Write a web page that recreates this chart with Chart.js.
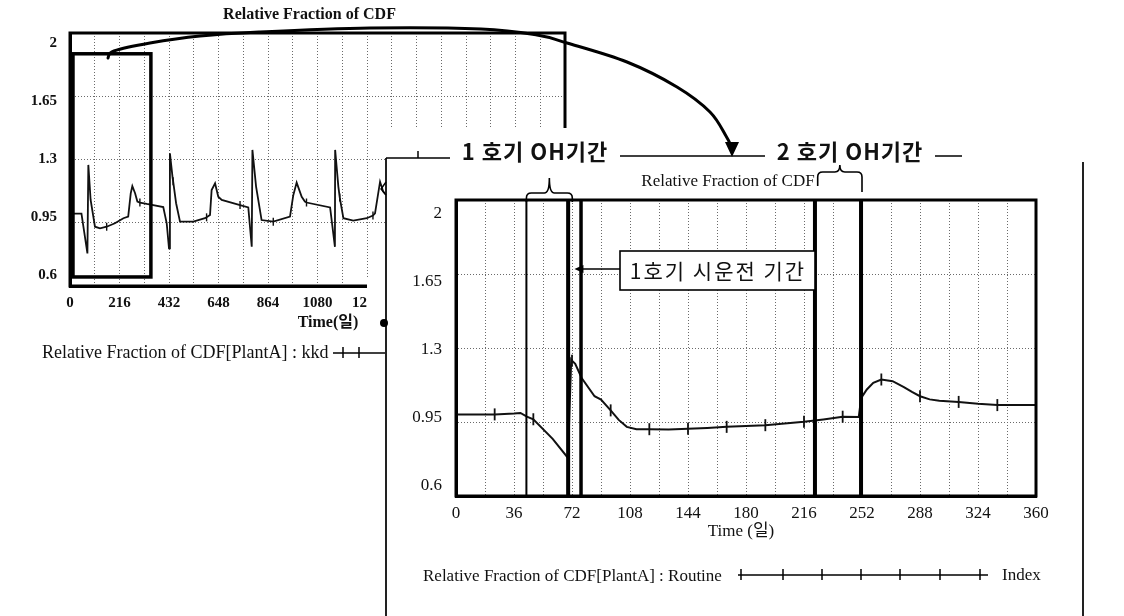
<!DOCTYPE html>
<html><head><meta charset="utf-8">
<script src="https://cdn.jsdelivr.net/npm/chart.js@4.4.1/dist/chart.umd.min.js"></script>
<style>
html,body{margin:0;padding:0;background:#fff;overflow:hidden}
#wrap{position:relative;width:1124px;height:616px;background:#fff}
canvas{position:absolute;left:0;top:0}
</style></head><body>
<div id="wrap"><canvas id="c1" width="1124" height="616"></canvas><canvas id="c2" width="1124" height="616"></canvas></div>
<script>
// ---------- Background chart (long run, kkd) ----------
const bgDays   = [0, 4, 50, 76, 80, 90, 109, 131, 160, 196, 233, 254, 265, 272, 284, 294, 305, 335, 407, 422, 432, 436, 448, 450, 463, 480, 538, 589, 596, 611, 618, 633, 647, 662, 742, 778, 793, 796, 812, 836, 887, 960, 974, 989, 1011, 1025, 1032, 1135, 1156, 1157, 1171, 1177, 1193, 1236, 1295, 1322, 1331, 1353, 1367, 1382, 1420];
const bgValues = [0.96, 1.0, 1.0, 0.78, 1.27, 1.076, 0.928, 0.919, 0.928, 0.947, 0.975, 0.984, 1.113, 1.153, 1.113, 1.067, 1.062, 1.054, 1.037, 0.947, 0.809, 1.334, 1.196, 1.18, 1.058, 0.956, 0.956, 0.975, 0.98, 0.993, 1.131, 1.168, 1.094, 1.076, 1.048, 1.035, 0.817, 1.353, 1.15, 0.965, 0.956, 0.984, 1.10, 1.172, 1.094, 1.067, 1.062, 1.035, 0.817, 1.353, 1.15, 1.09, 0.975, 0.962, 0.975, 0.99, 1.002, 1.177, 1.122, 1.10, 1.07];
const bgMarkerDays = [160, 305, 450, 596, 742, 887, 1032, 1177, 1322];
const bgXGrid = [0,108,216,324,432,540,648,756,864,972,1080,1188,1296,1404,1512,1620,1728,1836,1944,2052,2160];
const bgXTickLabels = [0,216,432,648,864,1080,1296,1512,1728,1944,2160];
const yTickLabels = [0.6, 0.95, 1.3, 1.65, 2];
const bgZoomBox = {x0: 13, x1: 353, y0: 0.65, y1: 1.885};

// ---------- Inset chart (0-360 days, Routine) ----------
const inDays   = [0, 12, 24, 36, 40, 44, 48, 60, 69.5, 71.5, 72, 74, 78, 86, 90, 96, 101, 106, 112, 120, 132, 144, 156, 168, 180, 192, 204, 216, 228, 240, 250, 251.5, 255, 259, 264, 271, 278, 283, 288, 294, 300, 312, 324, 336, 348, 360];
const inValues = [0.985, 0.985, 0.986, 0.99, 0.993, 0.975, 0.963, 0.87, 0.78, 1.245, 1.24, 1.225, 1.158, 1.072, 1.056, 1.005, 0.96, 0.927, 0.916, 0.916, 0.915, 0.918, 0.922, 0.927, 0.931, 0.935, 0.943, 0.951, 0.962, 0.975, 0.974, 1.064, 1.104, 1.135, 1.151, 1.143, 1.115, 1.092, 1.072, 1.057, 1.05, 1.045, 1.036, 1.03, 1.03, 1.03];
const inMarkerDays = [24, 48, 72, 96, 120, 144, 168, 192, 216, 240, 264, 288, 312, 336];
const inXGrid = [0,18,36,54,72,90,108,126,144,162,180,198,216,234,252,270,288,306,324,342,360];
const inXTickLabels = [0,36,72,108,144,180,216,252,288,324,360];
const eventDays = [43.7, 69.6, 77.6, 222.8, 251.4];
const eventLineWidths = [2, 4, 3.5, 4, 4];
const unit1OHBrace = [43.7, 72.2];
const unit2OHBrace = [224.5, 252];
const commissioningDay = 73.5;

const serif = "'Liberation Serif', 'Times New Roman', 'Noto Sans CJK KR', serif";
const kr = "'Noto Sans CJK KR', sans-serif";
const INK = '#111';

function drawYLabels(chart, x, font, k, dy) {
  const {ctx, chartArea: a, scales: {y}} = chart;
  const mid = (a.top + a.bottom) / 2;
  ctx.save(); ctx.font = font; ctx.fillStyle = INK; ctx.textAlign = 'right'; ctx.textBaseline = 'middle';
  yTickLabels.forEach(v => { const py = y.getPixelForValue(v); ctx.fillText(String(v), x, mid + (py - mid) * k + dy); });
  ctx.restore();
}
function frame(chart, w) {
  const {ctx, chartArea: a} = chart;
  ctx.save(); ctx.strokeStyle = '#000'; ctx.lineWidth = w;
  ctx.strokeRect(a.left, a.top, a.right - a.left, a.bottom - a.top); ctx.restore();
}
function text(ctx, s, x, y, font, align, spacing) {
  ctx.save(); ctx.font = font; ctx.fillStyle = INK; ctx.textAlign = align || 'center'; ctx.textBaseline = 'middle';
  if (spacing) ctx.letterSpacing = spacing;
  ctx.fillText(s, x, y); ctx.restore();
}
function line(ctx, x1, y1, x2, y2, w) {
  ctx.save(); ctx.strokeStyle = '#000'; ctx.lineWidth = w || 1.5; ctx.beginPath(); ctx.moveTo(x1, y1); ctx.lineTo(x2, y2); ctx.stroke(); ctx.restore();
}
function legendTicks(ctx, xs, y) {
  ctx.save(); ctx.strokeStyle = '#000'; ctx.lineWidth = 1.5;
  xs.forEach(x => { ctx.beginPath(); ctx.moveTo(x, y - 6); ctx.lineTo(x, y + 5); ctx.stroke(); });
  ctx.restore();
}
function brace(ctx, x0, x1, yTop, yPeak, yBaseL, yBaseR) {
  const xm = (x0 + x1) / 2, r = 5;
  ctx.save(); ctx.strokeStyle = '#000'; ctx.lineWidth = 1.6; ctx.beginPath();
  ctx.moveTo(x0, yBaseL); ctx.lineTo(x0, yTop + r); ctx.quadraticCurveTo(x0, yTop, x0 + r, yTop);
  ctx.lineTo(xm - r, yTop); ctx.quadraticCurveTo(xm, yTop, xm, yPeak);
  ctx.quadraticCurveTo(xm, yTop, xm + r, yTop); ctx.lineTo(x1 - r, yTop);
  ctx.quadraticCurveTo(x1, yTop, x1, yTop + r); ctx.lineTo(x1, yBaseR); ctx.stroke(); ctx.restore();
}
function smoothPath(ctx, pts) {
  ctx.moveTo(pts[0][0], pts[0][1]);
  for (let i = 0; i < pts.length - 1; i++) {
    const p0 = pts[i - 1] || pts[i], p1 = pts[i], p2 = pts[i + 1], p3 = pts[i + 2] || p2;
    ctx.bezierCurveTo(p1[0] + (p2[0] - p0[0]) / 6, p1[1] + (p2[1] - p0[1]) / 6,
                      p2[0] - (p3[0] - p1[0]) / 6, p2[1] - (p3[1] - p1[1]) / 6, p2[0], p2[1]);
  }
}

function xScaleCfg(min, max, grid, labels, font, pad, h) {
  return {
    type: 'linear', min, max,
    afterBuildTicks: s => { s.ticks = grid.map(v => ({value: v})); },
    ticks: {autoSkip: false, maxRotation: 0, padding: pad, color: INK, font,
      callback: v => labels.includes(v) ? String(v) : ''},
    grid: {color: '#6a6a6a', lineWidth: 1, drawTicks: false},
    border: {display: true, color: '#000', width: 3, dash: [1, 2]},
    afterFit: s => { s.height = h; }
  };
}
function yScaleCfg() {
  return {
    min: 0.6, max: 2,
    afterBuildTicks: s => { s.ticks = yTickLabels.map(v => ({value: v})); },
    ticks: {display: false},
    grid: {color: '#6a6a6a', lineWidth: 1, drawTicks: false},
    border: {display: true, color: '#000', width: 3, dash: [1, 2]},
    afterFit: s => { s.width = 10; }
  };
}

// ---------- Chart 1 : background ----------
new Chart(document.getElementById('c1'), {
  type: 'line',
  data: {datasets: [{
    data: bgDays.map((d, i) => ({x: d, y: bgValues[i]})),
    borderColor: INK, borderWidth: 1.8, tension: 0,
    pointStyle: 'line', rotation: 90, pointBorderColor: INK, pointBorderWidth: 1.4,
    pointRadius: c => (c.raw && bgMarkerDays.includes(c.raw.x)) ? 4 : 0, pointHoverRadius: 0
  }]},
  options: {
    responsive: false, animation: false, devicePixelRatio: 1, events: [],
    layout: {padding: {left: 60, right: 559, top: 33, bottom: 290}},
    plugins: {legend: {display: false}, tooltip: {enabled: false}},
    scales: {
      x: xScaleCfg(0, 2160, bgXGrid, bgXTickLabels, {family: serif, size: 15, weight: 'bold'}, 8, 40),
      y: yScaleCfg()
    }
  },
  plugins: [{
    id: 'bgDecor',
    afterDraw(chart) {
      const {ctx, chartArea: a, scales: {x, y}} = chart;
      frame(chart, 3);
      drawYLabels(chart, 57, `bold 15px ${serif}`, 0.917, -0.5);
      text(ctx, 'Relative Fraction of CDF', (a.left + a.right) / 2 - 8, 15, `bold 16px ${serif}`);
      text(ctx, 'Time(일)', 328, 323, `bold 16px ${serif}`);
      // zoom box over the first year
      ctx.save(); ctx.strokeStyle = '#000'; ctx.lineWidth = 3.5;
      const bx0 = x.getPixelForValue(bgZoomBox.x0), bx1 = x.getPixelForValue(bgZoomBox.x1);
      const by0 = y.getPixelForValue(bgZoomBox.y1), by1 = y.getPixelForValue(bgZoomBox.y0);
      ctx.strokeRect(bx0, by0, bx1 - bx0, by1 - by0); ctx.restore();
      // legend
      text(ctx, 'Relative Fraction of CDF[PlantA] : kkd', 42, 353, `18px ${serif}`, 'left');
      line(ctx, 333, 353, 386, 353, 1.3);
      legendTicks(ctx, [343, 359], 353);
    }
  }]
});

// ---------- Chart 2 : inset (first year) ----------
new Chart(document.getElementById('c2'), {
  type: 'line',
  data: {datasets: [{
    data: inDays.map((d, i) => ({x: d, y: inValues[i]})),
    borderColor: INK, borderWidth: 2, tension: 0,
    pointStyle: 'line', rotation: 90, pointBorderColor: INK, pointBorderWidth: 1.8,
    pointRadius: c => (c.raw && inMarkerDays.includes(c.raw.x)) ? 6 : 0, pointHoverRadius: 0
  }]},
  options: {
    responsive: false, animation: false, devicePixelRatio: 1, events: [],
    layout: {padding: {left: 446, right: 88, top: 200, bottom: 80}},
    plugins: {legend: {display: false}, tooltip: {enabled: false}},
    scales: {
      x: xScaleCfg(0, 360, inXGrid, inXTickLabels, {family: serif, size: 17}, 7, 40),
      y: yScaleCfg()
    }
  },
  plugins: [{
    id: 'inset',
    beforeDraw(chart) {
      const ctx = chart.ctx;
      ctx.save(); ctx.fillStyle = '#fff';
      ctx.fillRect(387, 128, 1124 - 387, 616 - 128);
      ctx.fillRect(367, 278, 20, 67);
      ctx.restore();
    },
    afterDraw(chart) {
      const {ctx, chartArea: a, scales: {x, y}} = chart;
      frame(chart, 3);
      // event (OH / commissioning) lines
      ctx.save(); ctx.strokeStyle = '#000';
      eventDays.forEach((d, i) => {
        const px = x.getPixelForValue(d);
        ctx.lineWidth = eventLineWidths[i];
        ctx.beginPath(); ctx.moveTo(px, a.top); ctx.lineTo(px, a.bottom); ctx.stroke();
      });
      ctx.restore();
      drawYLabels(chart, 442, `17px ${serif}`, 0.92, 1.5);
      text(ctx, 'Time (일)', 741, 532, `17px ${serif}`);
      text(ctx, 'Relative Fraction of CDF', 728, 182, `17px ${serif}`);
      // braces
      brace(ctx, x.getPixelForValue(unit1OHBrace[0]), x.getPixelForValue(unit1OHBrace[1]), 193, 178, 202, 202);
      brace(ctx, x.getPixelForValue(unit2OHBrace[0]), x.getPixelForValue(unit2OHBrace[1]), 172, 165, 186, 192);
      // panel frame pieces
      ctx.save(); ctx.strokeStyle = '#222'; ctx.lineWidth = 2;
      ctx.beginPath(); ctx.moveTo(386, 158); ctx.lineTo(386, 616); ctx.stroke();
      ctx.beginPath(); ctx.moveTo(1083, 162); ctx.lineTo(1083, 616); ctx.stroke();
      ctx.restore();
      line(ctx, 386, 158, 450, 158, 1.5);
      line(ctx, 418, 151, 418, 158, 1.5);
      line(ctx, 620, 156, 765, 156, 1.5);
      line(ctx, 935, 156, 962, 156, 1.5);
      ctx.save(); ctx.fillStyle = '#000'; ctx.beginPath(); ctx.arc(384, 323, 4, 0, Math.PI * 2); ctx.fill(); ctx.restore();
      ctx.save(); ctx.strokeStyle = '#000'; ctx.lineWidth = 1.4; ctx.beginPath();
      ctx.moveTo(386, 182); ctx.lineTo(381, 189); ctx.lineTo(386, 195); ctx.stroke(); ctx.restore();
      text(ctx, '1 호기 OH기간', 535, 152, `bold 22px ${kr}`, 'center', '1px');
      text(ctx, '2 호기 OH기간', 850, 152, `bold 22px ${kr}`, 'center', '1px');
      // commissioning label box and arrow
      ctx.save(); ctx.fillStyle = '#fff'; ctx.strokeStyle = '#000'; ctx.lineWidth = 1.6;
      ctx.fillRect(620, 251, 195, 39); ctx.strokeRect(620, 251, 195, 39); ctx.restore();
      text(ctx, '1호기 시운전 기간', 718, 271, `21px ${kr}`, 'center', '2px');
      const ax = x.getPixelForValue(commissioningDay), ay = y.getPixelForValue(1.65) - 5;
      line(ctx, ax + 6, ay, 620, ay, 1.5);
      ctx.save(); ctx.fillStyle = '#000'; ctx.beginPath();
      ctx.moveTo(ax, ay); ctx.lineTo(ax + 9, ay - 4); ctx.lineTo(ax + 9, ay + 4); ctx.closePath(); ctx.fill(); ctx.restore();
      // legend
      text(ctx, 'Relative Fraction of CDF[PlantA] : Routine', 423, 577, `17px ${serif}`, 'left');
      line(ctx, 738, 575, 988, 575, 1.4);
      legendTicks(ctx, [741, 783, 822, 861, 900, 940, 980], 575);
      text(ctx, 'Index', 1002, 576, `17px ${serif}`, 'left');
      // curved zoom arrow from background box to inset
      ctx.save(); ctx.strokeStyle = '#000'; ctx.lineWidth = 3; ctx.lineCap = 'round'; ctx.beginPath();
      smoothPath(ctx, [[108,58],[114,51],[150,43],[200,36],[259,32],[370,28],[481,29],[537,35],[567,43],[627,62],[677,87],[710,112],[726,136],[731,146]]);
      ctx.stroke();
      ctx.fillStyle = '#000'; ctx.beginPath(); ctx.moveTo(725, 142); ctx.lineTo(739, 142); ctx.lineTo(732, 157); ctx.closePath(); ctx.fill();
      ctx.restore();
    }
  }]
});
</script>
</body></html>
